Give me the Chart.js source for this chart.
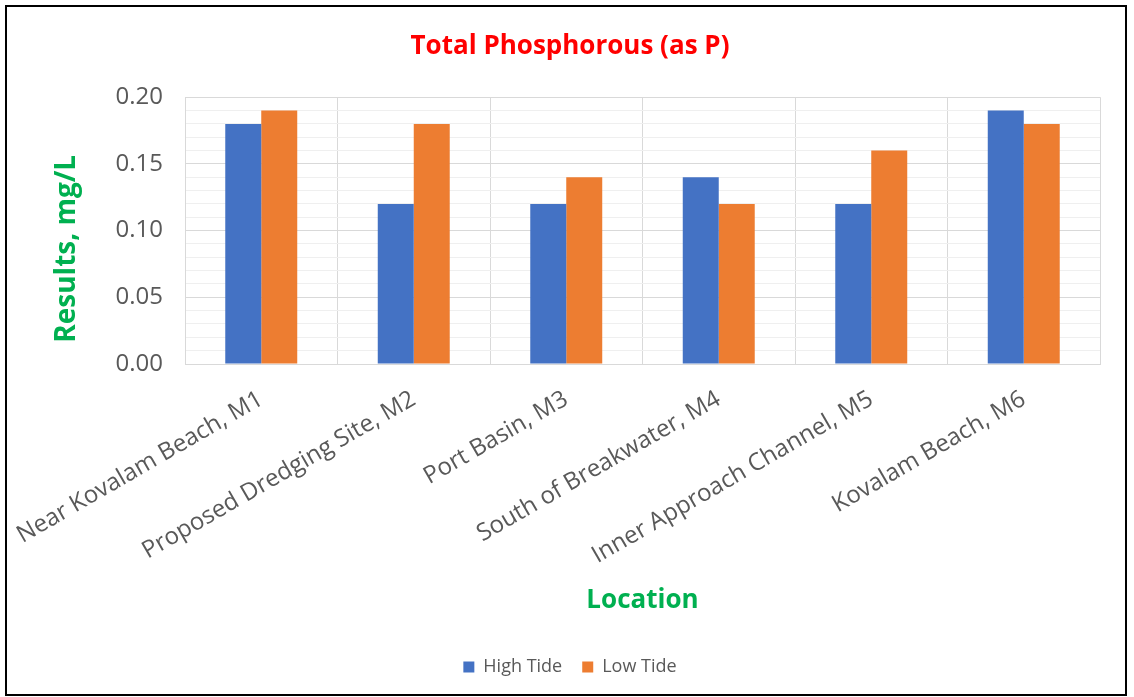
<!DOCTYPE html>
<html>
<head>
<meta charset="utf-8">
<script src="https://cdn.jsdelivr.net/npm/chart.js@4/dist/chart.umd.min.js"></script>
<style>
	body { margin: 0; background: #fff; }
	#wrap { position: relative; width: 1134px; height: 697px; }
	#marco { position: absolute; left: 5px; top: 5px; width: 1118px; height: 687px; border: 2px solid #000; pointer-events: none; }
	canvas { position: absolute; left: 0; top: 0; }
</style>
</head>
<body>
<div id="wrap">
	<canvas id="fosforo" width="1134" height="697"></canvas>
	<div id="marco"></div>
</div>
<script>
const ubicaciones = [
	"Near Kovalam Beach, M1",
	"Proposed Dredging Site, M2",
	"Port Basin, M3",
	"South of Breakwater, M4",
	"Inner Approach Channel, M5",
	"Kovalam Beach, M6"
]
const marea_alta = [0.18, 0.12, 0.12, 0.14, 0.12, 0.19]
const marea_baja = [0.19, 0.18, 0.14, 0.12, 0.16, 0.18]
const series = ["High Tide", "Low Tide"]

const fosforo = () => {
	const data = {
		labels: ubicaciones,
		datasets: [
			{
				label: series[0],
				data: marea_alta,
				backgroundColor: "#4472c4",
				categoryPercentage: 0.472,
				barPercentage: 1
			},
			{
				label: series[1],
				data: marea_baja,
				backgroundColor: "#ed7d31",
				categoryPercentage: 0.472,
				barPercentage: 1
			}
		]
	}

	const ctx = document.getElementById("fosforo").getContext('2d')

	const chart = new Chart(ctx, {
		type: 'bar',
		data: data,
		options: {
			responsive: false,
			animation: false,
			layout: {
				padding: { left: 40, right: 34, top: 0, bottom: 11 }
			},
			plugins: {
				title: {
					display: true,
					text: "Total Phosphorous (as P)",
					color: "#ff0000",
					font: { family: "Open Sans", size: 26, weight: 'bold' },
					padding: { top: 31, bottom: 35 }
				},
				legend: {
					position: 'bottom',
					labels: {
						boxWidth: 11,
						boxHeight: 11,
						padding: 20,
						color: "#595959",
						font: { family: "Open Sans", size: 18 }
					}
				},
				tooltip: { enabled: false }
			},
			scales: {
				x: {
					grid: { color: "#d9d9d9", drawTicks: false, offset: true },
					border: { color: "#d9d9d9" },
					ticks: {
						color: "#595959",
						font: { family: "Open Sans", size: 24 },
						minRotation: 30,
						maxRotation: 30,
						padding: 21,
						autoSkip: false
					},
					title: {
						display: true,
						text: "Location",
						color: "#00b050",
						font: { family: "Open Sans", size: 26, weight: 'bold' },
						padding: { top: 0, bottom: 22 }
					},
					afterFit: (scale) => {
						scale.height = 274
						// las etiquetas giradas no deben mover el area del grafico
						scale.paddingLeft = 0
						scale.paddingRight = 0
					}
				},
				y: {
					min: 0,
					max: 0.2,
					grid: {
						drawTicks: false,
						color: (c) => Math.round(c.tick.value * 100) % 5 === 0 ? "#d9d9d9" : "#efefef"
					},
					border: { color: "#d9d9d9" },
					ticks: {
						stepSize: 0.01,
						autoSkip: false,
						padding: 22,
						color: "#595959",
						font: { family: "Open Sans", size: 24 },
						callback: (v) => Math.round(v * 100) % 5 === 0 ? v.toFixed(2) : ''
					},
					title: {
						display: true,
						text: "Results, mg/L\u00a0\u00a0\u00a0\u00a0\u00a0",
						color: "#00b050",
						font: { family: "Open Sans", size: 28, weight: 'bold' },
						padding: { top: 10, bottom: 0 }
					},
					afterFit: (scale) => { scale.width = 145 }
				}
			}
		}
	})
}

window.addEventListener('load', fosforo)
</script>
</body>
</html>
